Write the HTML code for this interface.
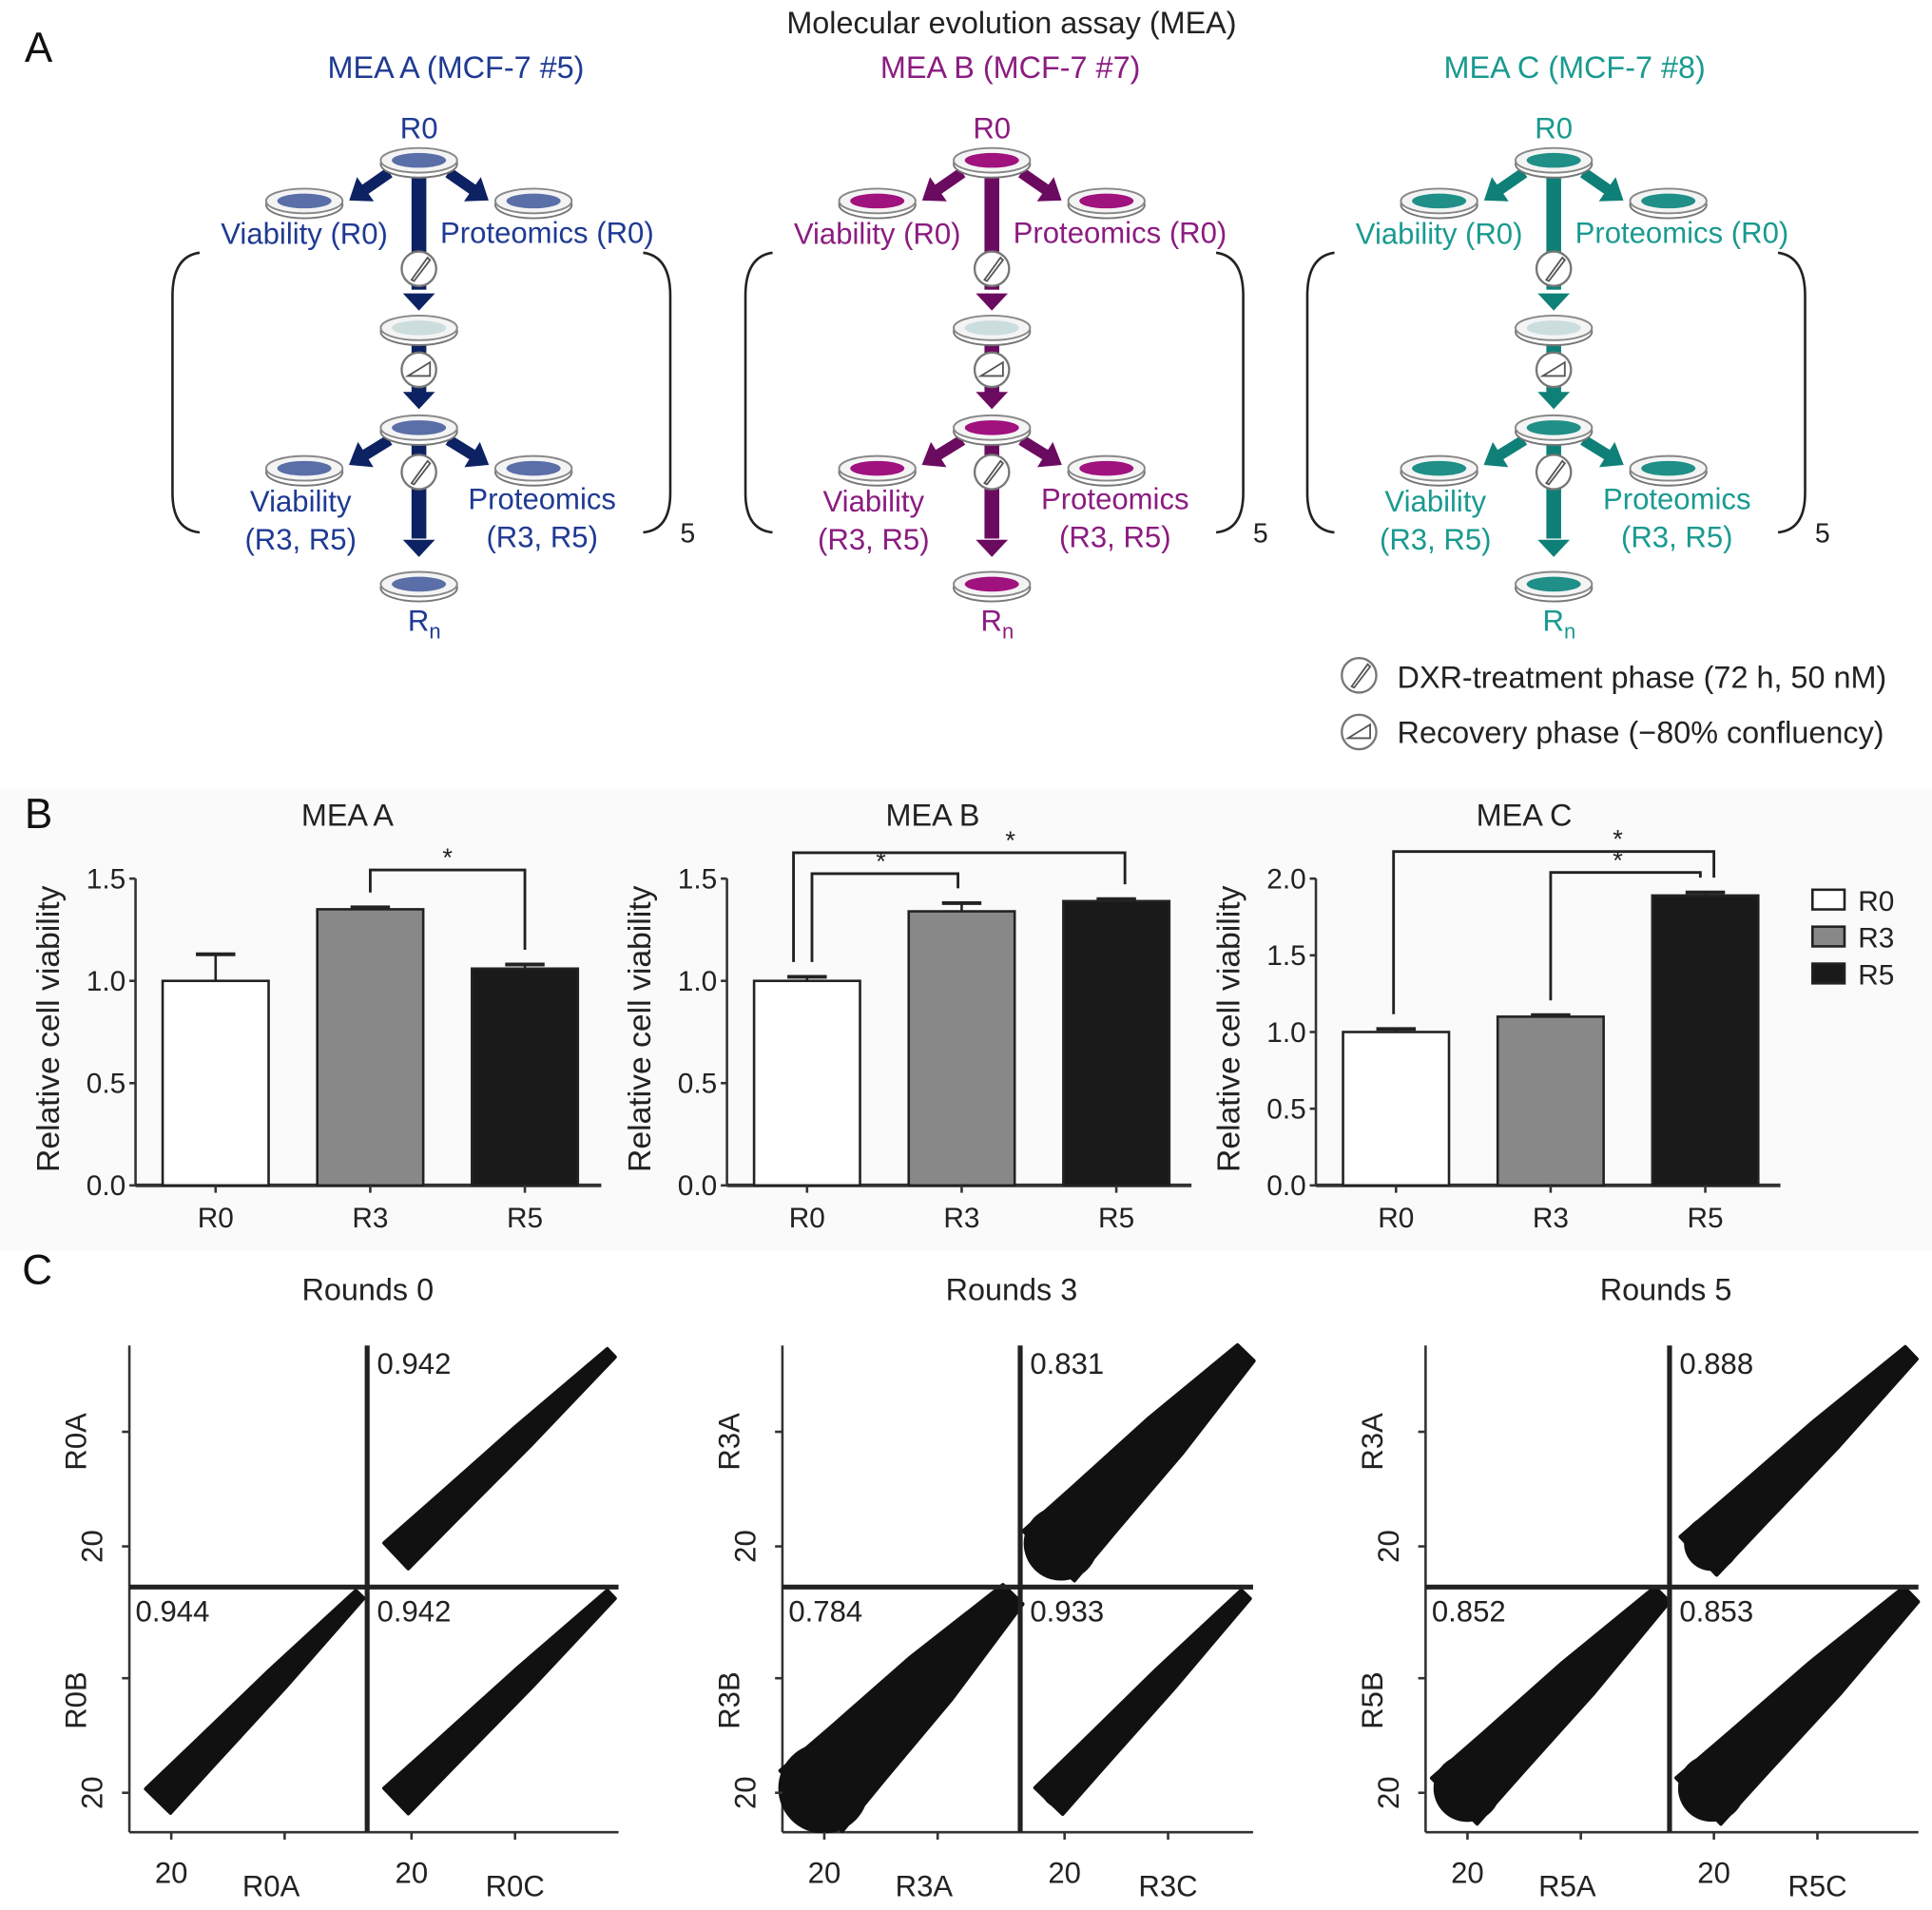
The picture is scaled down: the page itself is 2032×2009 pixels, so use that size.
<!DOCTYPE html>
<html><head><meta charset="utf-8"><style>
html,body{margin:0;padding:0;background:#fff}
svg{display:block;font-family:"Liberation Sans",sans-serif}
</style></head><body>
<svg id="fig" width="2032" height="2009" viewBox="0 0 1568 1550" xmlns="http://www.w3.org/2000/svg">
<rect x="0" y="0" width="1568" height="1550" fill="#fff"/>
<rect x="0" y="640" width="1568" height="375" fill="#fafafa"/>
<g id="panelA"></g>
<g id="panelB"></g>
<g id="panelC"></g>
</svg>
<script>
// ---------- Panel B data ----------
const barCategories = ["R0","R3","R5"];
const chartTitles = ["MEA A","MEA B","MEA C"];
const meaAValues = [1.0, 1.35, 1.06];
const meaAErrors = [0.13, 0.01, 0.02];
const meaBValues = [1.0, 1.34, 1.39];
const meaBErrors = [0.02, 0.04, 0.01];
const meaCValues = [1.0, 1.10, 1.89];
const meaCErrors = [0.02, 0.01, 0.02];
const ticksAB = [0.0, 0.5, 1.0, 1.5];
const ticksC = [0.0, 0.5, 1.0, 1.5, 2.0];
const legendLabels = ["R0","R3","R5"];
// significance pairs: [from bar, to bar]
const sigA = [[1,2]];
const sigB = [[0,1],[0,2]];
const sigC = [[1,2],[0,2]];
// ---------- Panel C data ----------
const roundTitles = ["Rounds 0","Rounds 3","Rounds 5"];
const corrTopRight = [0.942, 0.831, 0.888];
const corrBottomLeft = [0.944, 0.784, 0.852];
const corrBottomRight = [0.942, 0.933, 0.853];
const yLabelsTop = ["R0A","R3A","R3A"];
const yLabelsBottom = ["R0B","R3B","R5B"];
const xLabelsLeft = ["R0A","R3A","R5A"];
const xLabelsRight = ["R0C","R3C","R5C"];

const NS="http://www.w3.org/2000/svg";
function mk(tag, attrs, parent, text){
  const e=document.createElementNS(NS,tag);
  for(const k in attrs) e.setAttribute(k,attrs[k]);
  if(text!==undefined) e.textContent=text;
  parent.appendChild(e); return e;
}
const A=document.getElementById('panelA');
const B=document.getElementById('panelB');
const C=document.getElementById('panelC');

// ---------- Panel A ----------
let t;
t=mk('text',{x:20,y:50,'font-size':34,fill:'#111'},A,'A');


t=mk('text',{x:821,y:27,'font-size':25,'text-anchor':'middle',fill:'#222'},A,'Molecular evolution assay (MEA)');



const cols=[
 {c:340,h:370,title:'MEA A (MCF-7 #5)',tc:'#1f3a93',ac:'#0d2262',dc:'#5a6fa8'},
 {c:805,h:820,title:'MEA B (MCF-7 #7)',tc:'#8b1c80',ac:'#6b0b60',dc:'#a0127e'},
 {c:1261,h:1278,title:'MEA C (MCF-7 #8)',tc:'#1a9a90',ac:'#0f8077',dc:'#1f8f88'}
];
function dish(g,x,y,col){
  mk('ellipse',{cx:x,cy:y+3,rx:31,ry:11,fill:'#fff',stroke:'#777','stroke-width':1.5},g);
  mk('ellipse',{cx:x,cy:y,rx:31,ry:10,fill:'#f4f4f4',stroke:'#888','stroke-width':1.5},g);
  mk('ellipse',{cx:x,cy:y,rx:22,ry:6,fill:col},g);
}
function icon(g,x,y,type){
  mk('circle',{cx:x,cy:y,r:14,fill:'#fff',stroke:'#777','stroke-width':1.8},g);
  if(type==='d') mk('path',{d:`M${x-6} ${y+9} L${x+7} ${y-9} L${x+9} ${y-7} L${x-4} ${y+10} Z`,fill:'none',stroke:'#555','stroke-width':1.4},g);
  else mk('path',{d:`M${x-9} ${y+5} L${x+9} ${y+5} L${x+9} ${y-6} Z`,fill:'none',stroke:'#555','stroke-width':1.4},g);
}
function diagArrow(g,x1,y1,x2,y2,col){
  mk('line',{x1:x1,y1:y1,x2:x2,y2:y2,stroke:col,'stroke-width':9},g);
  const ang=Math.atan2(y2-y1,x2-x1), L=16,W=12;
  const px=x2+Math.cos(ang)*8, py=y2+Math.sin(ang)*8;
  const bx=px-Math.cos(ang)*L, by=py-Math.sin(ang)*L;
  mk('path',{d:`M${px} ${py} L${bx-Math.sin(ang)*W} ${by+Math.cos(ang)*W} L${bx+Math.sin(ang)*W} ${by-Math.cos(ang)*W} Z`,fill:col},g);
}
function downHead(g,x,y,col){ mk('path',{d:`M${x-13} ${y-14} L${x+13} ${y-14} L${x} ${y} Z`,fill:col},g); }
cols.forEach((k,i)=>{
  const g=mk('g',{},A);
  
  
  const c=k.c;
  mk('text',{x:k.h,y:63,'font-size':25,'text-anchor':'middle',fill:k.tc},g,k.title);
  mk('text',{x:c,y:112,'font-size':24,'text-anchor':'middle',fill:k.tc},g,'R0');
  mk('rect',{x:c-6,y:140,width:12,height:95,fill:k.ac},g);
  mk('rect',{x:c-6,y:262,width:12,height:60,fill:k.ac},g);
  mk('rect',{x:c-6,y:345,width:12,height:92,fill:k.ac},g);
  downHead(g,c,252,k.ac); downHead(g,c,332,k.ac); downHead(g,c,452,k.ac);
  diagArrow(g,c-24,140,c-50,158,k.ac); diagArrow(g,c+24,140,c+50,158,k.ac);
  diagArrow(g,c-24,357,c-50,373,k.ac); diagArrow(g,c+24,357,c+50,373,k.ac);
  dish(g,c,130,k.dc); dish(g,c-93,163,k.dc); dish(g,c+93,163,k.dc);
  dish(g,c,266,'#cdd'); dish(g,c,347,k.dc);
  dish(g,c-93,380,k.dc); dish(g,c+93,380,k.dc); dish(g,c,474,k.dc);
  icon(g,c,218,'d'); icon(g,c,300,'r'); icon(g,c,383,'d');
  mk('text',{x:c-93,y:198,'font-size':24,'text-anchor':'middle',fill:k.tc},g,'Viability (R0)');
  mk('text',{x:c+104,y:197,'font-size':24,'text-anchor':'middle',fill:k.tc},g,'Proteomics (R0)');
  mk('text',{x:c-96,y:415,'font-size':24,'text-anchor':'middle',fill:k.tc},g,'Viability');
  mk('text',{x:c-96,y:446,'font-size':24,'text-anchor':'middle',fill:k.tc},g,'(R3, R5)');
  mk('text',{x:c+100,y:413,'font-size':24,'text-anchor':'middle',fill:k.tc},g,'Proteomics');
  mk('text',{x:c+100,y:444,'font-size':24,'text-anchor':'middle',fill:k.tc},g,'(R3, R5)');
  const rn=mk('text',{x:c-9,y:512,'font-size':24,fill:k.tc},g,'R');
  mk('tspan',{dy:6,'font-size':17},rn,'n');
  mk('path',{d:`M${c-178} 205 Q${c-200} 208 ${c-200} 240 L${c-200} 400 Q${c-200} 430 ${c-178} 432`,fill:'none',stroke:'#222','stroke-width':2},g);
  mk('path',{d:`M${c+182} 205 Q${c+204} 208 ${c+204} 240 L${c+204} 400 Q${c+204} 430 ${c+182} 432`,fill:'none',stroke:'#222','stroke-width':2},g);
  mk('text',{x:c+212,y:440,'font-size':22,fill:'#222'},g,'5');
});
const lgA=mk('g',{},A);


icon(lgA,1103,548,'d'); icon(lgA,1103,594,'r');
mk('text',{x:1134,y:558,'font-size':25,fill:'#222'},lgA,'DXR-treatment phase (72 h, 50 nM)');
mk('text',{x:1134,y:603,'font-size':25,fill:'#222'},lgA,'Recovery phase (\u221280% confluency)');

// ---------- Panel B ----------
t=mk('text',{x:20,y:672,'font-size':34,fill:'#111'},B,'B');


const fills=['#ffffff','#888888','#1a1a1a'];
const charts=[
 {ax:110,end:488,tx:282,vals:meaAValues,errs:meaAErrors,ticks:ticksAB,max:1.5,sig:sigA},
 {ax:590,end:967,tx:757,vals:meaBValues,errs:meaBErrors,ticks:ticksAB,max:1.5,sig:sigB},
 {ax:1068,end:1445,tx:1237,vals:meaCValues,errs:meaCErrors,ticks:ticksC,max:2.0,sig:sigC}
];
const Y0=962, Y1=713;
const sigLevels=[[706],[709,692],[708,691]];
charts.forEach((ch,ci)=>{
  const g=mk('g',{},B);
  
  
  const y=v=>Y0-(v/ch.max)*(Y0-Y1);
  const x=i=>ch.ax+65+i*125.5;
  mk('text',{x:ch.tx,y:670,'font-size':25,'text-anchor':'middle',fill:'#222'},g,chartTitles[ci]);
  mk('text',{x:0,y:0,'font-size':26,'text-anchor':'middle',fill:'#222',transform:`translate(${ch.ax-62},835) rotate(-90)`},g,'Relative cell viability');
  mk('line',{x1:ch.ax,y1:Y1,x2:ch.ax,y2:Y0,stroke:'#333','stroke-width':2},g);
  mk('line',{x1:ch.ax,y1:Y0,x2:ch.end,y2:Y0,stroke:'#333','stroke-width':3},g);
  ch.ticks.forEach(tv=>{
    mk('line',{x1:ch.ax-5,y1:y(tv),x2:ch.ax,y2:y(tv),stroke:'#333','stroke-width':2},g);
    mk('text',{x:ch.ax-8,y:y(tv)+8,'font-size':23,'text-anchor':'end',fill:'#222'},g,tv.toFixed(1));
  });
  ch.vals.forEach((v,i)=>{
    const cx=x(i);
    const b=mk('rect',{x:cx-43,y:y(v),width:86,height:Y0-y(v),fill:fills[i],stroke:'#222','stroke-width':2},g);
    
    
    const e=ch.errs[i];
    mk('line',{x1:cx,y1:y(v),x2:cx,y2:y(v+e),stroke:'#222','stroke-width':2},g);
    mk('line',{x1:cx-16,y1:y(v+e),x2:cx+16,y2:y(v+e),stroke:'#222','stroke-width':3},g);
    mk('line',{x1:cx,y1:Y0,x2:cx,y2:Y0+6,stroke:'#333','stroke-width':2},g);
    mk('text',{x:cx,y:996,'font-size':23,'text-anchor':'middle',fill:'#222'},g,barCategories[i]);
  });
  ch.sig.forEach((s,si)=>{
    const [a,b2]=s;
    const yy=sigLevels[ci][si];
    const outer = si===1;
    let xa=x(a), xb=x(b2);
    if(ch.sig.length>1){
      if(ci===1){ xa += outer? -11 : 4; xb += outer? 7 : -3; }
      else { xa += outer? -2 : 0; xb += outer? 7 : -4; }
    }
    const ya=y(ch.vals[a]+ch.errs[a])-12, yb=y(ch.vals[b2]+ch.errs[b2])-12;
    mk('path',{d:`M${xa} ${ya} L${xa} ${yy} L${xb} ${yy} L${xb} ${yb}`,fill:'none',stroke:'#222','stroke-width':2.2},g);
    const sx = ch.sig.length>1 ? (ci===2? 1313 : (outer?820:715)) : (xa+xb)/2;
    mk('text',{x:sx,y:yy-3,'font-size':21,'text-anchor':'middle',fill:'#222'},g,'*');
  });
});
legendLabels.forEach((l,i)=>{
  const g=mk('g',{},B);
  
  
  mk('rect',{x:1471,y:722+i*30,width:26,height:16,fill:fills[i],stroke:'#222','stroke-width':2},g);
  mk('text',{x:1508,y:739+i*30,'font-size':23,fill:'#222'},g,l);
});

// ---------- Panel C ----------
t=mk('text',{x:18,y:1042,'font-size':34,fill:'#111'},C,'C');


const offs=[0,530,1052];
function cloud(g,x0,y0,x1,y1,r){
  const w=6+(1-r)*120;
  const dx=x1-x0, dy=y1-y0, L=Math.hypot(dx,dy), nx=-dy/L, ny=dx/L;
  const p=(f,s)=>[x0+dx*f+nx*s, y0+dy*f+ny*s];
  const pts=[p(0.02,-w*1.1),p(0.25,-w*0.95),p(0.6,-w*0.75),p(1,-w*0.35),p(1,w*0.35),p(0.6,w*0.75),p(0.25,w*0.95),p(0.02,w*1.1)];
  mk('path',{d:'M'+pts.map(q=>q.join(' ')).join(' L')+' Z',fill:'#111','stroke-linejoin':'round',stroke:'#111','stroke-width':3},g);
  mk('circle',{cx:x0+dx*0.08,cy:y0+dy*0.08,r:w*1.15,fill:'#111'},g);
}
roundTitles.forEach((rt,i)=>{
  const o=offs[i];
  const g=mk('g',{},C);
  
  
  const X0=105+o;
  const XEnd = i===0?502:(i===1?1017:1557);
  const XMid = i===0?298:(i===1?828:1355);
  const YT=1092, YM=1288, YB=1487;
  mk('text',{x:(X0+XEnd)/2-5,y:1055,'font-size':25,'text-anchor':'middle',fill:'#222'},g,rt);
  mk('line',{x1:X0,y1:YT,x2:X0,y2:YB,stroke:'#333','stroke-width':2},g);
  mk('line',{x1:X0,y1:YB,x2:XEnd,y2:YB,stroke:'#333','stroke-width':2},g);
  cloud(g,XMid+20,YM-22,XEnd-6,YT+6,corrTopRight[i]);
  cloud(g,X0+20,YB-22,XMid-6,YM+6,corrBottomLeft[i]);
  cloud(g,XMid+20,YB-22,XEnd-6,YM+6,corrBottomRight[i]);
  mk('line',{x1:XMid,y1:YT,x2:XMid,y2:YB,stroke:'#222','stroke-width':4},g);
  mk('line',{x1:X0,y1:YM,x2:XEnd,y2:YM,stroke:'#222','stroke-width':4},g);
  [[corrTopRight[i],XMid+8,YT+23],[corrBottomLeft[i],X0+5,YM+28],[corrBottomRight[i],XMid+8,YM+28]].forEach(c=>{
    mk('rect',{x:c[1]-2,y:c[2]-21,width:70,height:27,fill:'#fff'},g);
    mk('text',{x:c[1],y:c[2],'font-size':24,fill:'#222'},g,c[0].toFixed(3));
  });
  [[1162,false],[1255,true],[1362,false],[1455,true]].forEach(tk=>{
    mk('line',{x1:X0-6,y1:tk[0],x2:X0,y2:tk[0],stroke:'#333','stroke-width':2},g);
    if(tk[1]) mk('text',{x:0,y:0,'font-size':24,'text-anchor':'middle',fill:'#222',transform:`translate(${X0-22},${tk[0]}) rotate(-90)`},g,'20');
  });
  [[X0+34,true],[X0+126,false],[XMid+36,true],[XMid+120,false]].forEach(tk=>{
    mk('line',{x1:tk[0],y1:YB,x2:tk[0],y2:YB+6,stroke:'#333','stroke-width':2},g);
    if(tk[1]) mk('text',{x:tk[0],y:1528,'font-size':24,'text-anchor':'middle',fill:'#222'},g,'20');
  });
  mk('text',{x:0,y:0,'font-size':24,'text-anchor':'middle',fill:'#222',transform:`translate(${X0-35},1170) rotate(-90)`},g,yLabelsTop[i]);
  mk('text',{x:0,y:0,'font-size':24,'text-anchor':'middle',fill:'#222',transform:`translate(${X0-35},1380) rotate(-90)`},g,yLabelsBottom[i]);
  mk('text',{x:X0+115,y:1539,'font-size':24,'text-anchor':'middle',fill:'#222'},g,xLabelsLeft[i]);
  mk('text',{x:XMid+120,y:1539,'font-size':24,'text-anchor':'middle',fill:'#222'},g,xLabelsRight[i]);
});
</script>
</body></html>
